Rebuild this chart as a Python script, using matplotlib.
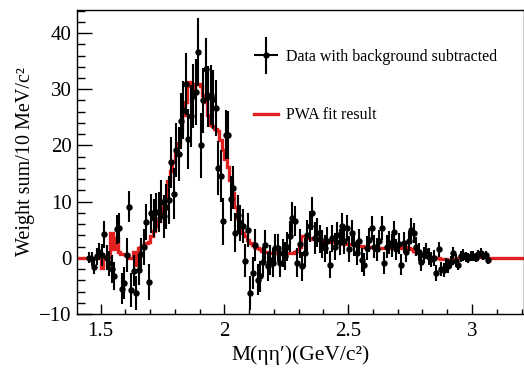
import numpy as np
import matplotlib
matplotlib.use("Agg")
import matplotlib.pyplot as plt
from matplotlib.container import ErrorbarContainer
from matplotlib.legend_handler import HandlerErrorbar
from matplotlib.ticker import MultipleLocator, FormatStrFormatter

plt.rcParams['font.family'] = ['Liberation Serif', 'DejaVu Serif']

# binning: 10 MeV bins starting at 1.45 GeV
BIN_START = 1.45
BIN_WIDTH = 0.01

# data with background subtracted (one value per bin)
data_vals = [
    0.0, -0.2, -1.6, 0.3, 1.1, 0.5, 4.2, 0.0, -1.0, -2.0,
    -3.3, 5.1, 5.3, -5.5, -4.5, 0.5, 9.1, -5.7, -2.3, -6.3,
    -2.1, 0.6, 2.0, 6.3, -4.3, 7.9, 7.1, 8.1, 8.2, 10.0,
    7.4, 9.1, 10.3, 17.0, 11.4, 19.2, 18.5, 24.3, 26.3, 31.0,
    21.1, 25.3, 28.8, 29.5, 36.6, 20.0, 28.0, 33.6, 28.7, 29.0,
    28.2, 26.6, 16.0, 14.5, 6.5, 21.9, 21.9, 10.5, 12.5, 4.5,
    7.7, 6.2, 5.6, -0.5, 5.0, -6.3, -2.7, 2.3, -3.9, -3.3,
    -0.7, 2.3, -1.5, -0.4, -0.9, 1.7, 1.7, -0.9, 0.8, 0.3,
    2.0, 3.8, 7.1, 6.5, -0.9, 2.5, -1.5, 0.9, 4.0, 5.6,
    7.9, 3.5, 4.5, 3.3, 2.5, 1.7, 3.0, -1.2, 3.5, 2.0,
    4.0, 2.8, 5.6, 3.0, 5.3, 1.5, 4.5, 2.5, 0.9, 3.0,
    -0.4, -1.2, 1.7, 3.2, 5.3, 2.0, 1.5, 3.0, 5.3, -0.9,
    2.0, 2.7, 2.2, 4.6, 1.5, 2.5, -1.2, 2.7, 1.0, 3.0,
    5.0, 4.4, 2.0, 1.0, -0.7, 0.5, 1.2, 0.2, -0.3, 0.0,
    -2.7, 1.5, -2.0, -2.2, -1.2, -1.5, -0.8, 0.9, -0.5, -1.2,
    0.3, 0.5, 0.2, -0.1, 0.4, 0.3, 0.0, 0.6, 0.9, 0.3,
    0.5, -0.4,
]

data_errs = [
    1.0, 1.2, 1.3, 1.5, 1.5,
    2.0, 2.4, 2.2, 2.2, 2.5, 2.5, 2.6, 2.6, 2.8, 2.8,
    3.0, 2.8, 3.0, 2.8, 3.0, 2.8, 3.0, 3.2, 3.2, 3.2,
    3.4, 3.4, 3.5, 3.6, 3.8, 3.8, 4.0, 4.2, 4.5, 4.5,
    4.8, 4.8, 5.0, 5.2, 5.5, 5.3, 5.5, 5.7, 5.8, 6.0,
    5.8, 5.8, 5.6, 5.5, 5.4, 5.3, 5.0, 4.8, 4.6, 4.2,
    4.4, 4.3, 4.0, 3.8, 3.5, 3.4, 3.2, 3.0, 3.0, 3.0,
    3.0, 2.9, 2.8, 2.8, 2.8, 2.7, 2.7, 2.6, 2.6, 2.6,
    2.6, 2.5, 2.5, 2.5, 2.5, 2.6, 2.8, 2.8, 2.7, 2.6,
    2.6, 2.6, 2.6, 2.7, 2.8, 3.0, 2.8, 2.6, 2.5, 2.5,
    2.4, 2.4, 2.4, 2.4, 2.4, 2.4, 2.3, 2.4, 2.3, 2.3,
    2.3, 2.3, 2.2, 2.2, 2.2, 2.2, 2.1, 2.1, 2.1, 2.2,
    2.1, 2.0, 2.0, 2.2, 2.0, 2.0, 2.0, 2.0, 2.0, 1.9,
    1.9, 1.9, 1.9, 1.8, 1.8, 2.0, 1.8, 1.7, 1.6, 1.6,
    1.5, 1.5, 1.5, 1.4, 1.4, 1.4, 1.3, 1.3, 1.3, 1.2,
    1.2, 1.1, 1.1, 1.1, 1.0, 1.0, 1.0, 0.9, 0.9, 0.9,
    0.9, 0.8, 0.8, 0.8, 0.7, 0.7, 0.7,
]

# PWA fit result (same bins)
fit_vals = [
    0.0, 0.0, 0.0, 0.0, 0.3, -1.8, 0.2, 0.2, 0.3, 4.4,
    1.5, 3.5, 1.0, 0.6, 0.6, 0.5, 0.0, 0.0, 1.0, -1.2,
    1.8, 2.0, 2.3, 2.6, 2.8, 3.9, 4.7, 5.6, 6.5, 7.6,
    9.0, 10.9, 13.6, 15.5, 17.0, 19.0, 20.5, 23.0, 25.5, 27.8,
    31.3, 30.5, 29.5, 31.0, 31.0, 30.5, 29.0, 27.8, 25.5, 23.7,
    23.4, 23.0, 22.5, 21.0, 19.2, 17.5, 16.2, 13.9, 11.5, 9.1,
    7.0, 5.6, 4.5, 3.8, 3.2, 2.6, 2.2, 1.9, 1.7, 1.5,
    1.3, 1.1, 1.0, 0.9, 0.9, 0.8, 0.8, 0.8, 0.8, 0.8,
    0.8, 0.9, 0.9, 1.0, 1.3, 2.0, 3.9, 3.9, 3.6, 3.5,
    3.3, 3.3, 3.2, 3.1, 3.0, 3.0, 2.9, 2.9, 2.8, 2.8,
    2.7, 2.6, 2.6, 2.5, 2.5, 2.4, 2.4, 2.3, 2.2, 2.1,
    2.1, 2.0, 2.0, 2.0, 1.9, 1.9, 1.9, 1.8, 1.8, 1.8,
    1.8, 1.7, 1.7, 1.7, 1.8, 1.8, 1.9, 1.8, 1.9, 1.8,
    1.6, 1.3, 1.0, 0.8, 0.6, 0.5, 0.4, 0.3, 0.2, 0.1,
    0.0, -0.1, -0.2, -0.3, -0.3, -0.4, -0.4, -0.3, -0.2, 0.0,
    0.1, 0.2, 0.2, 0.2, 0.2, 0.2, 0.1, 0.1, 0.1, 0.1,
    0.1, 0.0,
]

XMIN, XMAX = 1.405, 3.21
YMIN, YMAX = -10, 44.1

n = len(data_vals)
edges = BIN_START + BIN_WIDTH * np.arange(n + 1)
centers = 0.5 * (edges[:-1] + edges[1:])

fig = plt.figure(figsize=(5.24, 3.70), dpi=100)
ax = fig.add_axes([77 / 524, 1 - 314 / 370, 1 - 77 / 524, (314 - 10) / 370])

# fit curve, padded with zero outside the fitted range
fit_edges = np.concatenate([[XMIN], edges, [XMAX]])
fit_full = np.concatenate([[0.0], fit_vals, [0.0]])
ax.stairs(fit_full, fit_edges, color='#e0211f', lw=2.4, zorder=2)

ax.errorbar(centers, data_vals, yerr=data_errs, fmt='o', color='black',
            ms=3.6, elinewidth=1.5, capsize=0, zorder=3)

# legend proxies
proxy = ax.errorbar([np.nan], [np.nan], xerr=[1], yerr=[1], fmt='o',
                    color='black', ms=3.6, elinewidth=1.5, capsize=0)
fit_proxy, = ax.plot([], [], color='#e0211f', lw=2.4)
ax.legend([proxy, fit_proxy],
          ['Data with background subtracted', 'PWA fit result'],
          handler_map={ErrorbarContainer: HandlerErrorbar(xerr_size=0.75, yerr_size=1.15)},
          loc='upper left', bbox_to_anchor=(0.395, 0.872), frameon=False,
          fontsize=11.5, handlelength=1.5, handletextpad=0.5,
          labelspacing=2.65, borderpad=0, borderaxespad=0)

ax.set_xlim(XMIN, XMAX)
ax.set_ylim(YMIN, YMAX)
ax.xaxis.set_major_locator(MultipleLocator(0.5))
ax.xaxis.set_minor_locator(MultipleLocator(0.1))
ax.xaxis.set_major_formatter(FormatStrFormatter('%g'))
ax.yaxis.set_major_locator(MultipleLocator(10))
ax.yaxis.set_minor_locator(MultipleLocator(2))
ax.tick_params(axis='both', which='both', direction='in', top=False, right=False,
               labelsize=15, width=1)
ax.tick_params(axis='y', which='major', length=11, pad=4)
ax.tick_params(axis='y', which='minor', length=6)
ax.tick_params(axis='x', which='major', length=7, pad=6)
ax.tick_params(axis='x', which='minor', length=3.5)
for s in ax.spines.values():
    s.set_linewidth(1)

ax.set_xlabel('M(ηη′)(GeV/c²)', fontsize=15.5, labelpad=3)
ax.set_ylabel('Weight sum/10 MeV/c²', fontsize=14.5, labelpad=3)

fig.savefig('out.png', dpi=100)
